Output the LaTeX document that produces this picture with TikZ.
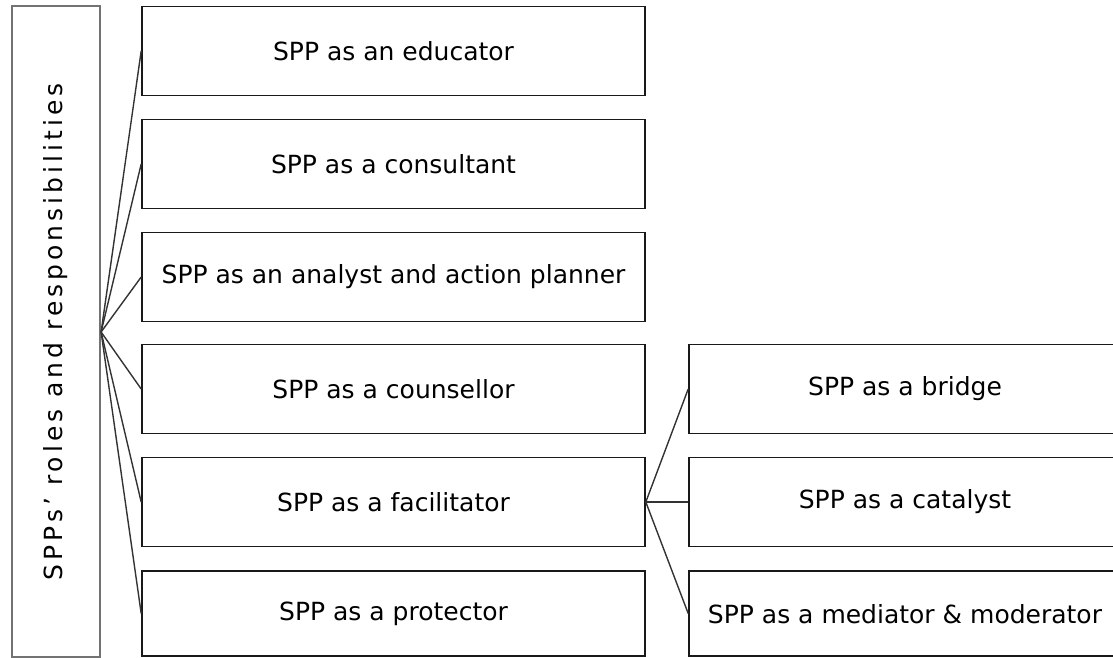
\documentclass[tikz,border=0pt]{standalone}
\usepackage{fontspec}
\setmainfont{DejaVu Sans}
\newfontfamily\spacedfont[LetterSpace=16]{DejaVu Sans}
\begin{document}
\begin{tikzpicture}[x=1pt,y=-1pt,
  labelfont/.style={font=\fontsize{25}{30}\selectfont},
  rolebox/.style={draw=black!90, line width=1.6pt, minimum height=89pt, inner sep=0pt, labelfont},
  mainbox/.style={draw=black!55, line width=2.2pt, minimum width=88pt, minimum height=651pt, inner sep=0pt},
  link/.style={draw=black!80, line width=1.4pt}]
\useasboundingbox (0,0) rectangle (1113,658);
\begin{scope}
\clip (0,0) rectangle (1113,658);
% left column: overall heading
\node[mainbox] (main) at (56,331.5) {};
\node[rotate=90, font=\spacedfont\fontsize{25}{30}\selectfont] (heading) at (56,332) {SPPs’ roles and responsibilities};
% middle column: roles
\node[rolebox, minimum width=503pt] (r1) at (393.5,51) {SPP as an educator};
\node[rolebox, minimum width=503pt] (r2) at (393.5,164) {SPP as a consultant};
\node[rolebox, minimum width=503pt] (r3) at (393.5,277) {SPP as an analyst and action planner};
\node[rolebox, minimum width=503pt] (r4) at (393.5,389) {SPP as a counsellor};
\node[rolebox, minimum width=503pt] (r5) at (393.5,502) {SPP as a facilitator};
\node[rolebox, minimum width=503pt, minimum height=85pt] (r6) at (393.5,613.5) {SPP as a protector};
% right column: facilitator sub-roles
\node[rolebox, minimum width=427pt] (f1) at (902.5,389) {};
\node[rolebox, minimum width=427pt] (f2) at (902.5,502) {};
\node[rolebox, minimum width=427pt, minimum height=85pt] (f3) at (902.5,613.5) {};
\end{scope}
\node[labelfont] (t1) at (905,389) {SPP as a bridge};
\node[labelfont] (t2) at (905,502) {SPP as a catalyst};
\node[labelfont] (t3) at (905,614) {SPP as a mediator \& moderator};
% connectors
\foreach \r in {r1,r2,r3,r4,r5,r6}
  \draw[link] (main.east |- 0,332) -- (\r.west);
\foreach \f in {f1,f2,f3}
  \draw[link] (r5.east) -- (\f.west);
\end{tikzpicture}
\end{document}
